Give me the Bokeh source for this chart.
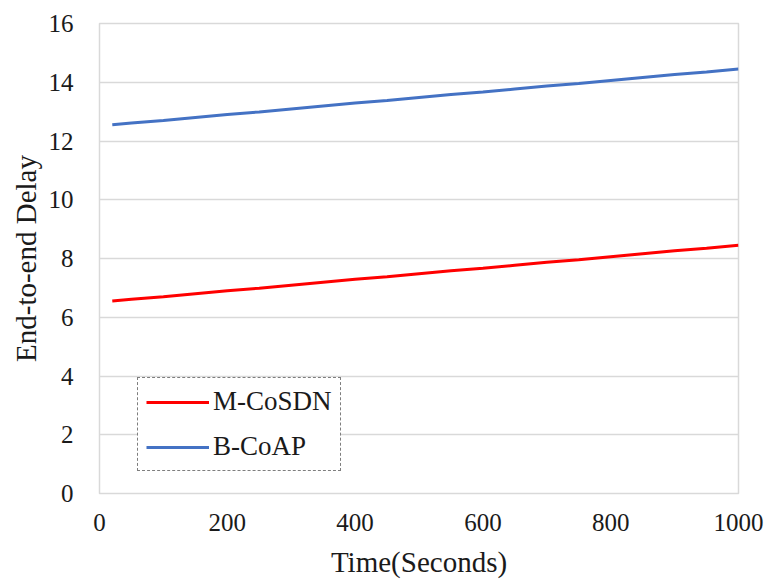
from bokeh.plotting import figure
from bokeh.models import Range1d, Legend, LegendItem, FixedTicker, LinearAxis
from bokeh.embed import file_html
from bokeh.resources import INLINE

time = [20, 50, 100, 150, 200, 250, 300, 350, 400, 450, 500,
        550, 600, 650, 700, 750, 800, 850, 900, 950, 1000]
m_cosdn = [6.55, 6.61, 6.70, 6.80, 6.90, 6.99, 7.09, 7.19, 7.29, 7.38, 7.48,
           7.58, 7.67, 7.77, 7.87, 7.96, 8.06, 8.16, 8.26, 8.35, 8.45]
b_coap = [12.55, 12.61, 12.70, 12.80, 12.90, 12.99, 13.09, 13.19, 13.29, 13.38, 13.48,
          13.58, 13.67, 13.77, 13.87, 13.96, 14.06, 14.16, 14.26, 14.35, 14.45]
x_ticks = [0, 200, 400, 600, 800, 1000]
y_ticks = [0, 2, 4, 6, 8, 10, 12, 14, 16]

FONT = "Liberation Serif"

p = figure(width=769, height=581, output_backend="svg", toolbar_location=None,
           x_range=Range1d(0, 1000), y_range=Range1d(0, 16),
           x_axis_location=None, y_axis_location=None,
           min_border_left=99, min_border_right=31, min_border_top=23, min_border_bottom=88)

p.outline_line_color = "#d9d9d9"
p.outline_line_width = 1.5
p.background_fill_color = "white"
p.border_fill_color = "white"

xaxis = LinearAxis(ticker=FixedTicker(ticks=x_ticks), axis_label="Time(Seconds)",
                   major_label_text_font=FONT, major_label_text_font_size="25px",
                   major_label_text_color="#1a1a1a", major_label_standoff=14,
                   axis_label_text_font=FONT, axis_label_text_font_size="29px",
                   axis_label_text_font_style="normal", axis_label_text_color="#1a1a1a",
                   axis_label_standoff=12,
                   axis_line_color=None, major_tick_line_color=None, minor_tick_line_color=None)
yaxis = LinearAxis(ticker=FixedTicker(ticks=y_ticks), axis_label="End-to-end Delay",
                   major_label_text_font=FONT, major_label_text_font_size="25px",
                   major_label_text_color="#1a1a1a", major_label_standoff=20,
                   axis_label_text_font=FONT, axis_label_text_font_size="29px",
                   axis_label_text_font_style="normal", axis_label_text_color="#1a1a1a",
                   axis_label_standoff=4,
                   axis_line_color=None, major_tick_line_color=None, minor_tick_line_color=None)
p.add_layout(xaxis, "below")
p.add_layout(yaxis, "left")

p.xgrid.grid_line_color = None
p.ygrid.ticker = FixedTicker(ticks=y_ticks)
p.ygrid.grid_line_color = "#d9d9d9"
p.ygrid.grid_line_width = 1.5

r1 = p.line(time, m_cosdn, line_color="#ff0000", line_width=3)
r2 = p.line(time, b_coap, line_color="#4472c4", line_width=3)

legend = Legend(items=[LegendItem(label="M-CoSDN", renderers=[r1]),
                       LegendItem(label="B-CoAP", renderers=[r2])],
                location=(38, 22))
legend.border_line_color = "black"
legend.border_line_dash = "4 3"
legend.border_line_width = 1.3
legend.background_fill_alpha = 1.0
legend.label_text_font = FONT
legend.label_text_font_size = "27px"
legend.label_text_color = "#1a1a1a"
legend.glyph_width = 63
legend.glyph_height = 24
legend.label_height = 24
legend.label_standoff = 4
legend.spacing = 14
legend.padding = 8
legend.margin = 0
p.add_layout(legend, "center")

open("out.html", "w").write(file_html(p, INLINE))
